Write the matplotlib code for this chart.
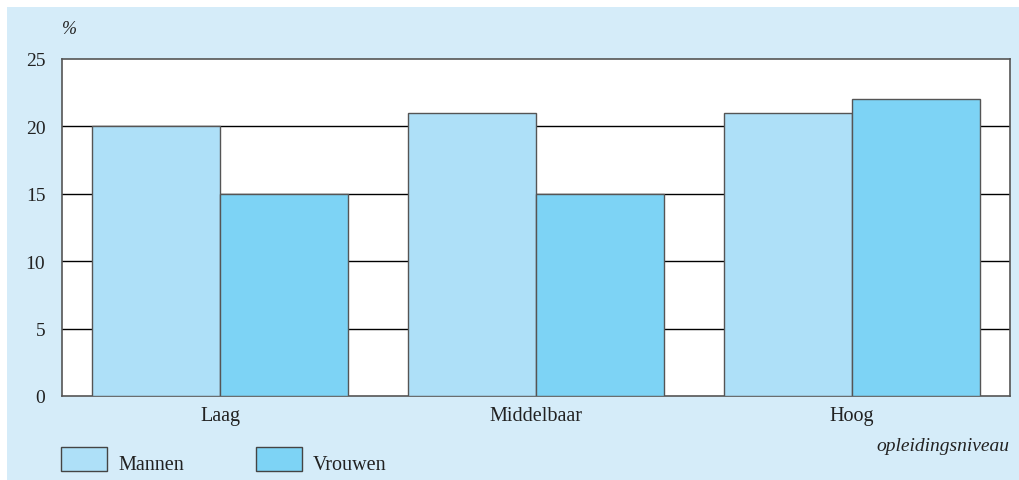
import matplotlib.pyplot as plt
import matplotlib.patches as mpatches
import numpy as np

categories = ['Laag', 'Middelbaar', 'Hoog']
mannen = [20, 21, 21]
vrouwen = [15, 15, 22]
yticks = [0, 5, 10, 15, 20, 25]

c_man = '#aee0f8'
c_vrouw = '#7dd3f5'
bg = '#d5ecf9'

plt.rcParams['font.family'] = ['Liberation Serif', 'DejaVu Serif']

fig = plt.figure(figsize=(10.2, 4.81), dpi=100)
fig.patch.set_facecolor('white')
# light blue panel behind everything
fig.add_artist(mpatches.Rectangle((7 / 1020, 0), 1 - 7 / 1020, 1 - 8 / 481,
                                  transform=fig.transFigure, facecolor=bg,
                                  edgecolor='none', zorder=-10))

ax = fig.add_axes([62 / 1020, 1 - 397 / 481, 948 / 1020, 337 / 481])
ax.set_facecolor('white')

x = np.arange(len(categories)) + 0.5
w = 128 / 316
ax.bar(x - w / 2, mannen, w, color=c_man, edgecolor='#555555', linewidth=1, zorder=3)
ax.bar(x + w / 2, vrouwen, w, color=c_vrouw, edgecolor='#555555', linewidth=1, zorder=3)

for y in yticks[1:-1]:
    ax.axhline(y, color='black', linewidth=1, zorder=1)

ax.set_xlim(0, 3)
ax.set_ylim(0, 25)
ax.set_yticks(yticks)
ax.set_xticks(x)
ax.set_xticklabels(categories)
ax.tick_params(axis='both', length=0, colors='#222222')
ax.tick_params(axis='y', pad=12, labelsize=14)
ax.tick_params(axis='x', pad=7, labelsize=14.5)
for s in ax.spines.values():
    s.set_color('#555555')
    s.set_linewidth(1.2)

fig.text(62 / 1020, 1 - 30 / 481, '%', fontsize=13, style='italic',
         color='#222222', va='center')
fig.text(1009 / 1020, 1 - 447 / 481, 'opleidingsniveau', fontsize=14,
         style='italic', color='#222222', ha='right', va='center')

# legend drawn by hand
for px, col, lab in [(61, c_man, 'Mannen'), (256, c_vrouw, 'Vrouwen')]:
    fig.add_artist(mpatches.Rectangle((px / 1020, 1 - 472 / 481), 46 / 1020, 24 / 481,
                                      transform=fig.transFigure, facecolor=col,
                                      edgecolor='#444444', linewidth=1))
    fig.text((px + 57) / 1020, 1 - 466 / 481, lab, fontsize=14.5, color='#222222',
             va='center')

fig.savefig('out.png', dpi=100)
